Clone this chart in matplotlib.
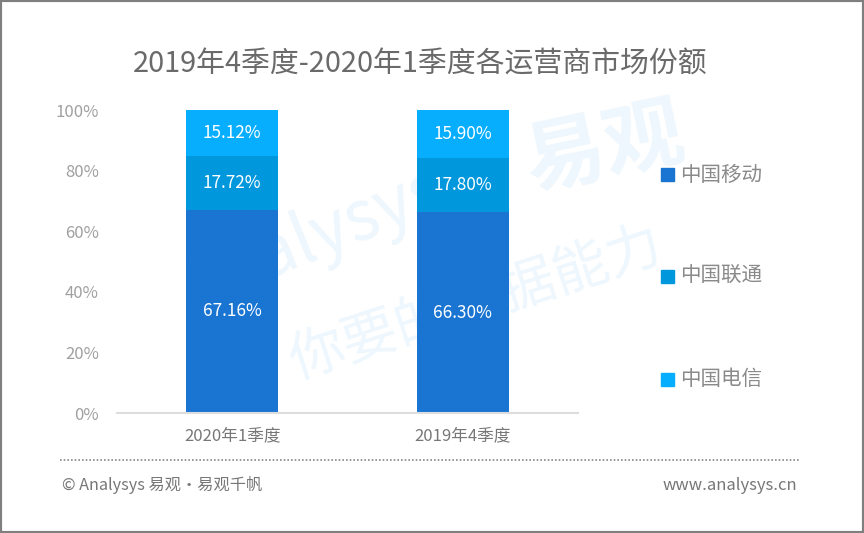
import matplotlib
matplotlib.use('Agg')
import matplotlib.pyplot as plt
from matplotlib.patches import Rectangle
from matplotlib.lines import Line2D

plt.rcParams['font.family'] = ['Noto Sans CJK SC', 'DejaVu Sans']

# Data
categories = ['2020年1季度', '2019年4季度']
series_names = ['中国移动', '中国联通', '中国电信']
mobile = [67.16, 66.30]
unicom = [17.72, 17.80]
telecom = [15.12, 15.90]
yticks = [0, 20, 40, 60, 80, 100]

colors = ['#1a75d2', '#0097dd', '#08aefe']
title = '2019年4季度-2020年1季度各运营商市场份额'

fig = plt.figure(figsize=(8.64, 5.33), dpi=100)

# faint watermark (behind everything)
wm = '#eef7fd'
fig.text(0.70, 0.72, '易观', fontsize=58, color=wm, fontweight='bold', rotation=12,
         ha='center', va='center', zorder=-5)
fig.text(0.36, 0.55, 'Analysys', fontsize=50, color=wm, rotation=22,
         ha='center', va='center', zorder=-5)
fig.text(0.55, 0.43, '你要的数据能力', fontsize=40, color=wm, rotation=18,
         ha='center', va='center', zorder=-5)

ax = fig.add_axes([0.1354, 0.2251, 0.5336, 0.5685])
ax.set_zorder(2)
ax.patch.set_alpha(0)

x = range(len(categories))
segments = [mobile, unicom, telecom]
bottom = [0.0] * len(categories)
for vals, col, name in zip(segments, colors, series_names):
    ax.bar(x, vals, width=0.4, bottom=bottom, color=col, label=name, zorder=2)
    for xi, v, b in zip(x, vals, bottom):
        ax.text(xi, b + v / 2, f'{v:.2f}%', ha='center', va='center',
                color='white', fontsize=12.4, zorder=3)
    bottom = [b + v for b, v in zip(bottom, vals)]

ax.set_xlim(-0.5, 1.5)
ax.set_ylim(0, 100)
ax.set_yticks(yticks)
ax.set_yticklabels([f'{t}%' for t in yticks], color='#a0a0a0', fontsize=12,
                   fontweight='light')
ax.set_xticks(list(x))
ax.set_xticklabels(categories, color='#777777', fontsize=12, fontweight='light')
ax.tick_params(axis='both', length=0)
ax.tick_params(axis='y', pad=13)
ax.tick_params(axis='x', pad=10)
for s in ['top', 'right', 'left']:
    ax.spines[s].set_visible(False)
ax.spines['bottom'].set_color('#dddddd')
ax.spines['bottom'].set_linewidth(1.5)

# legend on the right, widely spaced
leg_y = [1 - 175 / 533, 1 - 276 / 533, 1 - 379 / 533]
for name, col, yy in zip(series_names, colors, leg_y):
    fig.patches.append(Rectangle((661 / 864, yy - 6.5 / 533), 13 / 864, 13 / 533,
                                 transform=fig.transFigure, color=col, figure=fig))
    fig.text(680 / 864, yy, name, fontsize=14.8, color='#8a8a8a', va='center', ha='left',
             fontweight='light')

fig.text(0.486, 1 - 65 / 533, title, fontsize=20.8, color='#6a6a6a', ha='center',
         va='center', fontweight='light')

# footer
fig.add_artist(Line2D([60 / 864, 800 / 864], [1 - 460 / 533, 1 - 460 / 533],
                      transform=fig.transFigure, color='#888888', linestyle=(0, (1, 1.2)),
                      linewidth=1.2))
fig.text(62 / 864, 1 - 485 / 533, '© Analysys 易观·易观千帆', fontsize=11.7, color='#777777',
         ha='left', va='center', fontweight='light')
fig.text(797 / 864, 1 - 485 / 533, 'www.analysys.cn', fontsize=12, color='#777777',
         ha='right', va='center', fontweight='light')

# outer border
fig.patches.append(Rectangle((0, 0), 1, 1, transform=fig.transFigure, fill=False,
                             edgecolor='#7f7f7f', linewidth=3, figure=fig))

fig.savefig('out.png', dpi=100)
